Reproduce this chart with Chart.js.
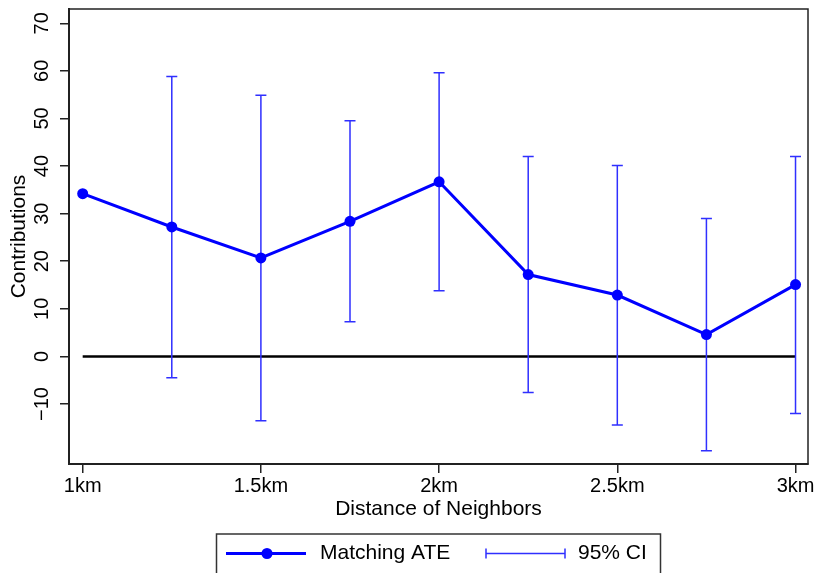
<!DOCTYPE html>
<html>
<head>
<meta charset="utf-8">
<script src="https://cdn.jsdelivr.net/npm/chart.js@4/dist/chart.umd.min.js"></script>
<style>
  html, body { margin: 0; padding: 0; background: #ffffff; }
  #grafico { display: block; }
</style>
</head>
<body>
<canvas id="grafico" width="817" height="573"></canvas>
<script>
// Dados: efeito estimado (ATE) por distância de vizinhos, com IC de 95%
const distancias = [1, 1.25, 1.5, 1.75, 2, 2.25, 2.5, 2.75, 3];
const valoresATE = [34.2, 27.2, 20.7, 28.4, 36.7, 17.2, 12.9, 4.6, 15.1];
const icInferior = [null, -4.5, -13.5, 7.3, 13.8, -7.6, -14.4, -19.8, -12.0];
const icSuperior = [null, 58.8, 54.9, 49.5, 59.6, 42.0, 40.1, 29.0, 42.0];

const xTicks = [1, 1.5, 2, 2.5, 3];
const xTickLabels = ['1km', '1.5km', '2km', '2.5km', '3km'];
const yTicks = [-10, 0, 10, 20, 30, 40, 50, 60, 70];
const yTickLabels = ['\u221210', '0', '10', '20', '30', '40', '50', '60', '70'];

const linhaZero = [{ x: 1, y: 0 }, { x: 3, y: 0 }];

const FONTE = "'Liberation Sans', Arial, sans-serif";
const AZUL = '#0000ff';
const AZUL_IC = '#2f2fff';

// Barras de erro (IC 95%) desenhadas logo após a linha do zero
const errorBars = {
    id: 'errorBars',
    afterDatasetDraw(chart, args) {
        if (args.index !== 1) return;
        const ctx = chart.ctx;
        const x = chart.scales.x, y = chart.scales.y;
        ctx.save();
        ctx.strokeStyle = AZUL_IC;
        ctx.lineWidth = 1.5;
        distancias.forEach((d, i) => {
            if (icInferior[i] === null) return;
            const px = x.getPixelForValue(d);
            const yLo = y.getPixelForValue(icInferior[i]);
            const yHi = y.getPixelForValue(icSuperior[i]);
            ctx.beginPath();
            ctx.moveTo(px, yLo); ctx.lineTo(px, yHi);
            ctx.moveTo(px - 5.5, yLo); ctx.lineTo(px + 5.5, yLo);
            ctx.moveTo(px - 5.5, yHi); ctx.lineTo(px + 5.5, yHi);
            ctx.stroke();
        });
        ctx.restore();
    }
};

// Moldura, rótulos do eixo y, títulos dos eixos e legenda
const decoracao = {
    id: 'decoracao',
    afterDraw(chart) {
        const ctx = chart.ctx;
        const area = chart.chartArea;
        const y = chart.scales.y;
        ctx.save();

        ctx.strokeStyle = '#222';
        ctx.lineWidth = 1.5;
        ctx.strokeRect(area.left, area.top, area.right - area.left, area.bottom - area.top);

        ctx.fillStyle = '#000';
        ctx.font = '20px ' + FONTE;
        ctx.textAlign = 'center';
        ctx.textBaseline = 'middle';
        yTicks.forEach((v, i) => {
            ctx.save();
            ctx.translate(42.5, y.getPixelForValue(v));
            ctx.rotate(-Math.PI / 2);
            ctx.fillText(yTickLabels[i], 0, 0);
            ctx.restore();
        });

        ctx.font = '21px ' + FONTE;
        ctx.save();
        ctx.translate(19, (area.top + area.bottom) / 2);
        ctx.rotate(-Math.PI / 2);
        ctx.fillText('Contributions', 0, 0);
        ctx.restore();

        ctx.fillText('Distance of Neighbors', (area.left + area.right) / 2, 509.5);

        // legenda
        const ly = 553.5;
        ctx.strokeStyle = '#333';
        ctx.lineWidth = 1.5;
        ctx.strokeRect(216.5, 534, 444, 60);

        ctx.strokeStyle = AZUL;
        ctx.lineWidth = 3;
        ctx.beginPath();
        ctx.moveTo(226, ly); ctx.lineTo(306, ly);
        ctx.stroke();
        ctx.fillStyle = AZUL;
        ctx.beginPath();
        ctx.arc(267, ly, 5.5, 0, Math.PI * 2);
        ctx.fill();

        ctx.strokeStyle = AZUL_IC;
        ctx.lineWidth = 1.5;
        ctx.beginPath();
        ctx.moveTo(486, ly); ctx.lineTo(565, ly);
        ctx.moveTo(486, ly - 5); ctx.lineTo(486, ly + 5);
        ctx.moveTo(565, ly - 5); ctx.lineTo(565, ly + 5);
        ctx.stroke();

        ctx.fillStyle = '#000';
        ctx.textAlign = 'left';
        ctx.fillText('Matching ATE', 320, ly);
        ctx.fillText('95% CI', 578, ly);

        ctx.restore();
    }
};

new Chart(document.getElementById('grafico'), {
    type: 'line',
    data: {
        datasets: [
            {
                label: 'Matching ATE',
                data: distancias.map((d, i) => ({ x: d, y: valoresATE[i] })),
                borderColor: AZUL,
                backgroundColor: AZUL,
                borderWidth: 3,
                pointRadius: 5.5,
                pointBorderWidth: 0,
                pointBackgroundColor: AZUL,
                tension: 0,
                order: 0
            },
            {
                label: 'zero',
                data: linhaZero,
                borderColor: '#000',
                borderWidth: 2.5,
                pointRadius: 0,
                tension: 0,
                order: 1
            }
        ]
    },
    options: {
        responsive: false,
        animation: false,
        events: [],
        layout: { padding: { left: 0, top: 9, right: 9, bottom: 0 } },
        plugins: {
            legend: { display: false },
            tooltip: { enabled: false }
        },
        scales: {
            x: {
                type: 'linear',
                min: 0.9616,
                max: 3.035,
                afterFit(scale) { scale.height = 109; },
                afterBuildTicks(scale) { scale.ticks = xTicks.map(v => ({ value: v })); },
                grid: { drawOnChartArea: false, color: '#222', lineWidth: 1.5, tickLength: 9 },
                border: { display: true, color: '#222', width: 2 },
                ticks: {
                    color: '#000',
                    padding: 1,
                    maxRotation: 0,
                    autoSkip: false,
                    font: { family: FONTE, size: 20 },
                    callback: (v) => {
                        const i = xTicks.indexOf(v);
                        return i >= 0 ? xTickLabels[i] : '';
                    }
                }
            },
            y: {
                type: 'linear',
                min: -22.6,
                max: 73.0,
                afterFit(scale) { scale.width = 69; },
                afterBuildTicks(scale) { scale.ticks = yTicks.map(v => ({ value: v })); },
                grid: { drawOnChartArea: false, color: '#222', lineWidth: 1.5, tickLength: 9 },
                border: { display: true, color: '#222', width: 2 },
                ticks: { display: false }
            }
        }
    },
    plugins: [errorBars, decoracao]
});
</script>
</body>
</html>
